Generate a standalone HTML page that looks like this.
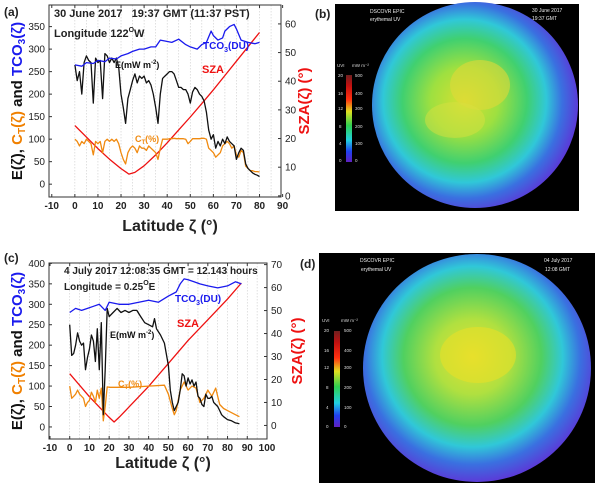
<!DOCTYPE html>
<html><head><meta charset="utf-8">
<style>
html,body{margin:0;padding:0;background:#fff;}
svg{display:block;font-family:"Liberation Sans",Arial,sans-serif;}
</style></head>
<body>
<svg id="fig" width="600" height="488" viewBox="0 0 600 488" xmlns="http://www.w3.org/2000/svg">
<defs>
<radialGradient id="globeGradB" cx="0.45" cy="0.48" r="0.55">
<stop offset="0" stop-color="#d8e030"/><stop offset="0.3" stop-color="#9ee040"/><stop offset="0.55" stop-color="#40d070"/><stop offset="0.72" stop-color="#30c8d8"/><stop offset="0.86" stop-color="#3a70e0"/><stop offset="1" stop-color="#5a3cd8"/>
</radialGradient>
<radialGradient id="globeGradD" cx="0.48" cy="0.45" r="0.55">
<stop offset="0" stop-color="#e8e030"/><stop offset="0.3" stop-color="#b0e040"/><stop offset="0.55" stop-color="#50d060"/><stop offset="0.72" stop-color="#30c8d8"/><stop offset="0.86" stop-color="#3a70e0"/><stop offset="1" stop-color="#5a3cd8"/>
</radialGradient>
<linearGradient id="cbar" x1="0" y1="1" x2="0" y2="0">
<stop offset="0" stop-color="#6020c0"/><stop offset="0.12" stop-color="#2040f0"/><stop offset="0.25" stop-color="#20d0e0"/><stop offset="0.42" stop-color="#30d050"/><stop offset="0.58" stop-color="#e0e020"/><stop offset="0.72" stop-color="#ff3010"/><stop offset="0.88" stop-color="#c01010"/><stop offset="1" stop-color="#702020"/>
</linearGradient>
</defs>
<g id="chartA"></g>
<g id="chartC"></g>

<g>
<rect x="335" y="4" width="244" height="207" fill="#000"/>
<circle cx="475" cy="105" r="103" fill="url(#globeGradB)"/>
<ellipse cx="480" cy="85" rx="30" ry="25" fill="#e0d838" opacity="0.6"/>
<ellipse cx="455" cy="120" rx="30" ry="18" fill="#d8e040" opacity="0.5"/>
<rect x="346" y="75" width="6" height="87" fill="url(#cbar)"/>
<g font-size="4.5" fill="#ddd">
<text x="337" y="67">UVI</text>
<text x="352" y="67">mW m⁻²</text>
<text x="338" y="77">20</text><text x="355" y="77">500</text>
<text x="338" y="95">16</text><text x="355" y="95">400</text>
<text x="338" y="110">12</text><text x="355" y="110">300</text>
<text x="339" y="128">8</text><text x="355" y="128">200</text>
<text x="339" y="145">4</text><text x="355" y="145">100</text>
<text x="339" y="162">0</text><text x="355" y="162">0</text>
</g>
<text x="370" y="13" font-size="5" fill="#eee">DSCOVR EPIC</text>
<text x="370" y="21" font-size="5" fill="#eee">erythemal UV</text>
<text x="532" y="12" font-size="5" fill="#eee">30 June 2017</text>
<text x="532" y="20" font-size="5" fill="#eee">19:37 GMT</text>
<text x="315" y="18" font-size="12" font-weight="bold" fill="#222">(b)</text>
</g>

<g>
<rect x="319" y="253" width="276" height="230" fill="#000"/>
<circle cx="477" cy="368" r="114" fill="url(#globeGradD)"/>
<ellipse cx="478" cy="355" rx="38" ry="28" fill="#e8e028" opacity="0.6"/>
<rect x="334" y="331" width="6" height="96" fill="url(#cbar)"/>
<g font-size="4.5" fill="#ddd">
<text x="322" y="322">UVI</text>
<text x="341" y="322">mW m⁻²</text>
<text x="324" y="332">20</text><text x="344" y="332">500</text>
<text x="324" y="352">16</text><text x="344" y="352">400</text>
<text x="324" y="369">12</text><text x="344" y="369">300</text>
<text x="326" y="389">8</text><text x="344" y="389">200</text>
<text x="326" y="409">4</text><text x="344" y="409">100</text>
<text x="326" y="428">0</text><text x="344" y="428">0</text>
</g>
<text x="360" y="262" font-size="5" fill="#eee">DSCOVR EPIC</text>
<text x="361" y="271" font-size="5" fill="#eee">erythemal UV</text>
<text x="544" y="262" font-size="5" fill="#eee">04 July 2017</text>
<text x="545" y="271" font-size="5" fill="#eee">12:08 GMT</text>
<text x="300" y="268" font-size="12" font-weight="bold" fill="#222">(d)</text>
</g>
</svg>
<script>
// ---- Chart (a) data ----
const aELat=[0,1,2,3,4,5,6,7,8,9,10,11,12,13,14,15,16,17,18,19,20,21,22,23,24,25,26,27,28,29,30,31,32,33,34,35,36,37,38,39,40,41,42,43,44,45,46,47,48,49,50,51,52,53,54,55,56,57,58,59,60,61,62,63,64,65,66,67,68,69,70,71,72,73,74,75,76,77,78,79,80];
const aE=[265,230,250,200,270,285,275,270,180,280,270,275,190,290,285,270,280,270,280,260,200,170,135,190,210,230,245,225,240,235,240,225,230,220,200,170,135,200,235,240,245,250,250,245,230,215,215,210,210,200,180,205,215,210,200,195,185,160,120,100,110,80,95,85,100,90,105,95,90,85,55,70,80,75,45,35,30,25,22,20,17];
const aCT=[100,95,85,95,90,100,95,90,65,95,90,95,70,95,100,95,100,95,100,90,70,55,45,70,80,85,80,70,85,80,80,75,85,80,75,70,55,80,100,100,100,101,101,102,101,101,101,101,100,90,95,101,101,101,101,102,102,100,80,75,70,60,65,70,85,90,95,90,80,85,65,60,75,70,40,35,30,30,28,28,27];
const aTLat=[0,3,5,8,10,13,15,18,20,23,25,28,30,33,35,37,39,42,45,48,50,53,55,57,59,60,62,64,65,67,69,70,72,75,78,80];
const aTCO3=[265,262,270,268,275,272,280,278,285,290,295,300,300,305,305,320,318,315,322,310,305,300,310,315,340,330,320,325,340,350,355,345,320,315,312,315];
const aSLat=[0,5,10,15,20,23.4,26,30,35,40,45,50,55,60,65,70,75,80];
const aSZA=[24.5,20.5,16.5,12.8,9.5,7.6,8.2,10.5,14.3,18.5,23,27.5,32.2,37,42,47,52,57];
const aXTicks=[-10,0,10,20,30,40,50,60,70,80,90];
const aYTicks=[0,50,100,150,200,250,300,350];
const aRTicks=[0,10,20,30,40,50,60];

// ---- Chart (c) data ----
const cELat=[0,1,2,3,4,5,6,7,8,9,10,11,12,13,14,15,16,17,18,19,20,22,24,26,28,30,32,34,36,38,40,42,43,44,46,48,50,51,52,53,54,55,56,57,58,59,60,61,62,63,64,65,66,67,68,69,70,71,72,73,74,75,76,77,78,80,82,84,86];
const cE=[250,175,180,200,230,210,200,205,140,170,190,225,210,160,240,140,255,30,140,290,270,280,290,280,285,280,285,285,270,255,250,245,265,240,225,205,150,90,60,40,50,60,90,130,125,100,120,105,115,100,110,75,70,55,50,80,70,70,75,60,55,50,40,30,25,18,15,10,8];
const cCTLat=[0,1,2,3,4,5,6,7,8,9,10,11,12,13,14,15,16,17,18,19,20,30,40,48,50,52,53,54,56,58,60,62,64,66,68,70,72,74,76,78,80,84,86];
const cCT=[100,70,75,80,90,80,75,70,50,60,65,85,75,60,90,70,95,15,50,98,97,97,100,102,80,45,30,40,90,110,90,100,95,60,70,90,75,95,55,45,40,30,25];
const cTLat=[0,3,6,9,12,15,18,20,25,30,35,40,45,50,54,56,58,60,63,66,70,75,80,84,87];
const cTCO3=[280,290,285,290,295,300,285,305,300,300,305,310,305,320,330,350,362,360,355,350,345,340,345,355,350];
const cSLat=[0,10,20,22.5,25,30,40,50,60,70,80,87];
const cSZA=[22.5,12.5,3.5,1.5,3.5,8,17,27,37,46,55,62];
const cXTicks=[-10,0,10,20,30,40,50,60,70,80,90,100];
const cYTicks=[0,50,100,150,200,250,300,350,400];
const cRTicks=[0,10,20,30,40,50,60,70];

const NS='http://www.w3.org/2000/svg';
function mk(parent,tag,attrs,text){
  const e=document.createElementNS(NS,tag);
  for(const k in attrs) e.setAttribute(k,attrs[k]);
  if(text!==undefined) e.textContent=text;
  parent.appendChild(e); return e;
}

function drawChart(g,cfg,xt,yt,rt,series){
  const X=v=>cfg.x0+(v-cfg.xmin)/(cfg.xmax-cfg.xmin)*(cfg.x1-cfg.x0);
  const Y=v=>cfg.y1-(v-cfg.ymin)/(cfg.ymax-cfg.ymin)*(cfg.y1-cfg.y0);
  const R=v=>cfg.y1-(v-cfg.rmin)/(cfg.rmax-cfg.rmin)*(cfg.y1-cfg.y0);
  for(let v=0; v<=cfg.gridMax; v+=5){
    const l=mk(g,'line',{x1:X(v),x2:X(v),y1:cfg.y0,y2:cfg.y1,stroke:'#ccc','stroke-width':0.6,'stroke-dasharray':'1.5,1.5'});
    
    
  }
  series.forEach(s=>{
    const f=s.right?R:Y;
    const d=s.xs.map((x,i)=>(i?'L':'M')+X(x).toFixed(1)+','+f(s.ys[i]).toFixed(1)).join('');
    const p=mk(g,'path',{d:d,fill:'none',stroke:s.color,'stroke-width':1.3,'stroke-linejoin':'round'});
    
    
  });
  const fr=mk(g,'rect',{x:cfg.x0,y:cfg.y0,width:cfg.x1-cfg.x0,height:cfg.y1-cfg.y0,fill:'none',stroke:'#333','stroke-width':1});
  
  
  xt.forEach(v=>{
    mk(g,'line',{x1:X(v),x2:X(v),y1:cfg.y1,y2:cfg.y1-3,stroke:'#333'});
    mk(g,'line',{x1:X(v),x2:X(v),y1:cfg.y0,y2:cfg.y0+3,stroke:'#333'});
    const t=mk(g,'text',{x:X(v),y:cfg.y1+12,'font-size':10,'font-weight':'bold','text-anchor':'middle',fill:'#222'},String(v));
    
    
  });
  yt.forEach(v=>{
    mk(g,'line',{x1:cfg.x0,x2:cfg.x0+3,y1:Y(v),y2:Y(v),stroke:'#333'});
    const t=mk(g,'text',{x:cfg.x0-4,y:Y(v)+3.5,'font-size':10,'text-anchor':'end',fill:'#222'},String(v));
    
    
  });
  rt.forEach(v=>{
    mk(g,'line',{x1:cfg.x1,x2:cfg.x1-3,y1:R(v),y2:R(v),stroke:'#333'});
    const t=mk(g,'text',{x:cfg.x1+4,y:R(v)+3.5,'font-size':10,fill:'#222'},String(v));
    
    
  });
  const xt2=mk(g,'text',{x:(cfg.x0+cfg.x1)/2+5,y:cfg.y1+cfg.xTitleGap,'font-size':16,'font-weight':'bold','text-anchor':'middle',fill:'#222'},'Latitude ζ (°)');
  
  
  const yc=(cfg.y0+cfg.y1)/2;
  const lt=mk(g,'text',{x:0,y:0,'font-size':15,'font-weight':'bold','text-anchor':'middle',transform:`translate(${cfg.titleX},${yc}) rotate(-90)`});
  
  
  lt.innerHTML='<tspan fill="#111">E(ζ), </tspan><tspan fill="#f08000">C<tspan font-size="10" dy="3">T</tspan><tspan dy="-3">(ζ)</tspan></tspan><tspan fill="#111"> and </tspan><tspan fill="#1a1aee">TCO<tspan font-size="10" dy="3">3</tspan><tspan dy="-3">(ζ)</tspan></tspan>';
  const rtt=mk(g,'text',{x:0,y:0,'font-size':15,'font-weight':'bold','text-anchor':'middle',fill:'#ee1111',transform:`translate(${cfg.rTitleX},${yc}) rotate(-90)`},'SZA(ζ) (°)');
  
  
}

const gA=document.getElementById('chartA');
drawChart(gA,{x0:49,x1:281,y0:5,y1:197,xmin:-11.2,xmax:89.3,ymin:-28.5,ymax:398,rmin:-0.4,rmax:66.6,gridMax:85,titleX:22,rTitleX:309,xTitleGap:34},aXTicks,aYTicks,aRTicks,[
 {name:'sza-line-a',xs:aSLat,ys:aSZA,color:'#ee1111',right:true},
 {name:'ct-line-a',xs:aELat,ys:aCT,color:'#f08a10'},
 {name:'e-line-a',xs:aELat,ys:aE,color:'#111'},
 {name:'tco3-line-a',xs:aTLat,ys:aTCO3,color:'#1a1aee'}
]);
const gC=document.getElementById('chartC');
drawChart(gC,{x0:49,x1:267,y0:263,y1:439,xmin:-10.5,xmax:100,ymin:-29.5,ymax:401,rmin:-5.9,rmax:70.7,gridMax:95,titleX:22,rTitleX:302,xTitleGap:29},cXTicks,cYTicks,cRTicks,[
 {name:'sza-line-c',xs:cSLat,ys:cSZA,color:'#ee1111',right:true},
 {name:'ct-line-c',xs:cCTLat,ys:cCT,color:'#f08a10'},
 {name:'e-line-c',xs:cELat,ys:cE,color:'#111'},
 {name:'tco3-line-c',xs:cTLat,ys:cTCO3,color:'#1a1aee'}
]);

function label(g,x,y,html,size,color,name){
  const t=mk(g,'text',{x:x,y:y,'font-size':size,'font-weight':'bold',fill:color});
  t.innerHTML=html;
  
  
}
label(gA,4,16,'(a)',12,'#222','panel-label-a');
label(gA,54,17,'30 June 2017&#160;&#160; 19:37 GMT (11:37 PST)',11,'#222','annotation-date-a');
label(gA,54,37,'Longitude 122<tspan font-size="7" dy="-5">O</tspan><tspan dy="5">W</tspan>',11,'#222','annotation-longitude-a');
label(gA,203,49,'TCO<tspan font-size="7" dy="3">3</tspan><tspan dy="-3">(DU)</tspan>',10,'#1a1aee','label-tco3-a');
label(gA,115,68,'E(mW m<tspan font-size="6" dy="-4">-2</tspan><tspan dy="4">)</tspan>',9,'#111','label-e-a');
label(gA,202,73,'SZA',11,'#ee1111','label-sza-a');
label(gA,135,142,'C<tspan font-size="6" dy="2">T</tspan><tspan dy="-2">(%)</tspan>',9,'#f08a10','label-ct-a');

label(gC,4,262,'(c)',12,'#222','panel-label-c');
label(gC,64,274,'4 July 2017 12:08:35 GMT = 12.143 hours',10,'#222','annotation-date-c');
label(gC,64,290,'Longitude = 0.25<tspan font-size="7" dy="-5">O</tspan><tspan dy="5">E</tspan>',10,'#222','annotation-longitude-c');
label(gC,175,302,'TCO<tspan font-size="7" dy="3">3</tspan><tspan dy="-3">(DU)</tspan>',10,'#1a1aee','label-tco3-c');
label(gC,110,338,'E(mW m<tspan font-size="6" dy="-4">-2</tspan><tspan dy="4">)</tspan>',9,'#111','label-e-c');
label(gC,177,327,'SZA',11,'#ee1111','label-sza-c');
label(gC,118,387,'C<tspan font-size="6" dy="2">T</tspan><tspan dy="-2">(%)</tspan>',9,'#f08a10','label-ct-c');
</script>
</body></html>
